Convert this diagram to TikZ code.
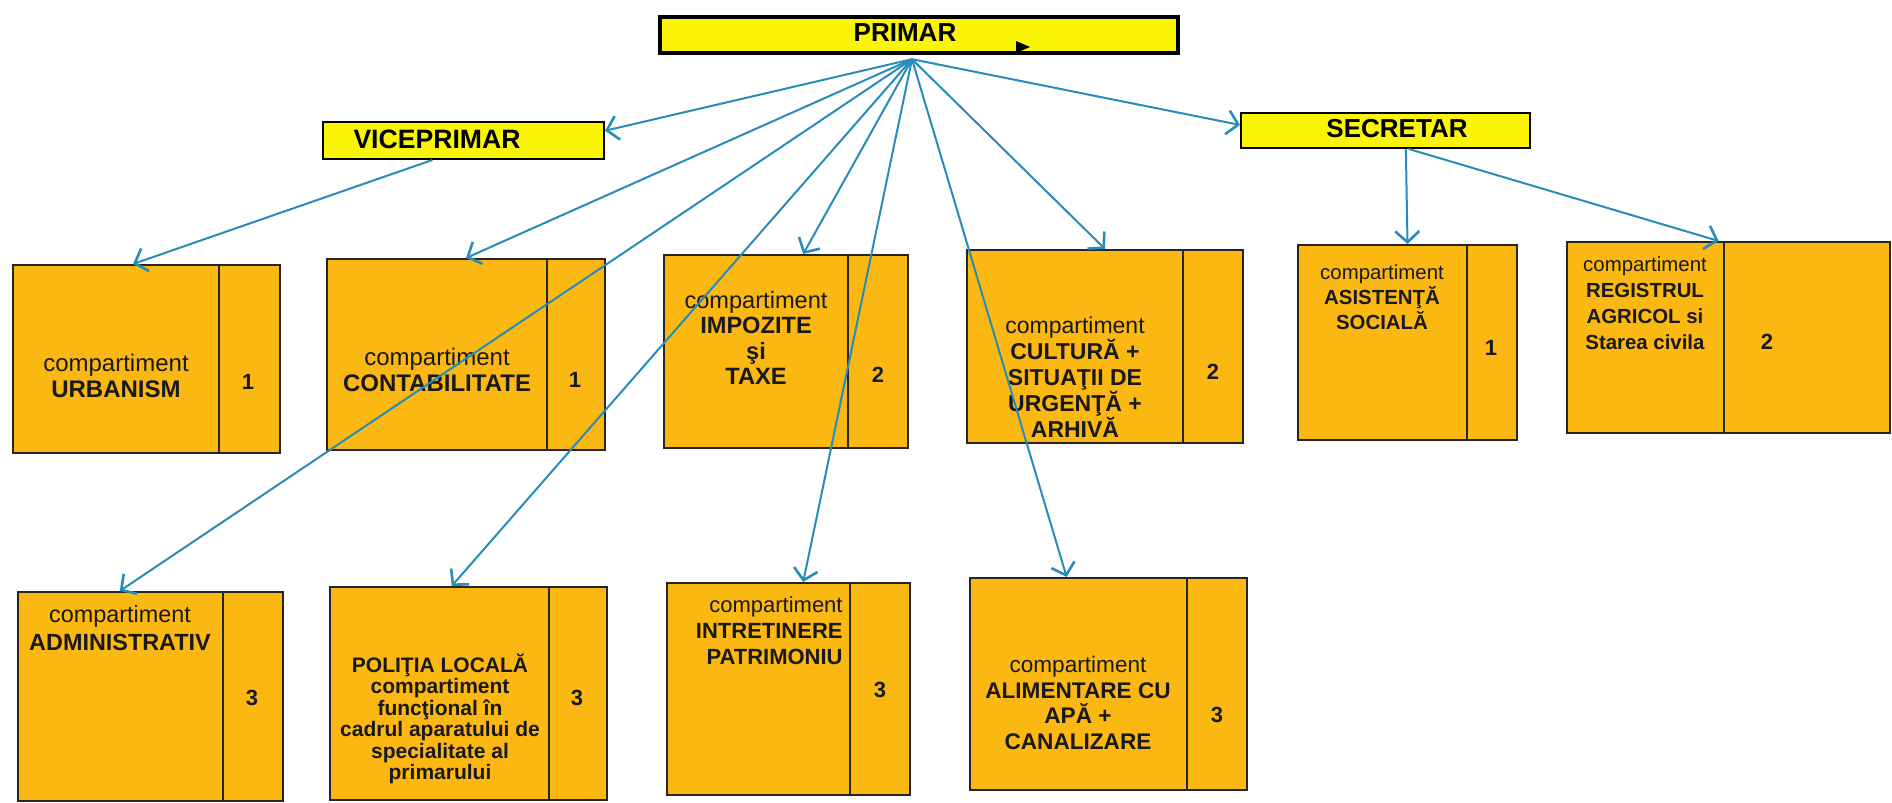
\documentclass[tikz,border=0pt]{standalone}
\usepackage{fontspec}
\setmainfont{Liberation Sans}
\usetikzlibrary{fit,calc,arrows.meta}
\definecolor{ybox}{RGB}{250,245,5}
\definecolor{obox}{RGB}{252,184,18}
\definecolor{lnk}{RGB}{40,140,185}
\tikzset{
 ybx/.style={draw=black, fill=ybox, line width=1pt, inner sep=0pt},
 obx/.style={draw=black!85, fill=obox, line width=1pt, inner sep=0pt},
 divl/.style={draw=black!85, line width=0.9pt},
 lbl/.style={align=center, inner sep=0pt, text=black!90},
 numl/.style={inner sep=0pt, font=\fontsize{11}{13}\selectfont\bfseries, text=black!90},
 arr/.style={draw=lnk, line width=1pt, -{Straight Barb[length=5.5pt,width=12pt,line width=1.3pt]}},
}
\newcommand\obox[6]{%
 \node[obx, fit={(#2,#3) (#5,#6)}] (#1) {};
 \draw[divl] (#4,#3) -- (#4,#6);
}
\begin{document}
\begin{tikzpicture}[x=0.5pt,y=-0.5pt]
\useasboundingbox (0,0) rectangle (1892,803);
% top boxes
\node[ybx, line width=2.2pt, fit={(660,17) (1178,53)}] (primar) {};
\node[font=\fontsize{13}{15}\selectfont\bfseries] (primart) at (905,33) {PRIMAR};
\fill (1016,41) -- (1030,47) -- (1016,53) -- cycle;
\node[ybx, fit={(323,122) (604,159)}] (vice) {};
\node[font=\fontsize{13.3}{15}\selectfont\bfseries] (vicet) at (437,139) {VICEPRIMAR};
\node[ybx, fit={(1241,113) (1530,148)}] (secr) {};
\node[font=\fontsize{13}{15}\selectfont\bfseries] (secrt) at (1397,129) {SECRETAR};
% first row
\obox{urb}{13}{265}{219}{280}{453}
\node[lbl, font=\fontsize{12}{13}\selectfont] (urbt) at (116,376) {compartiment\\\textbf{URBANISM}};
\node[numl] (urbn) at (248,382) {1};
\obox{con}{327}{259}{547}{605}{450}
\node[lbl, font=\fontsize{12}{13}\selectfont] (cont) at (437,370) {compartiment\\\textbf{CONTABILITATE}};
\node[numl] (connum) at (575,380) {1};
\obox{imp}{664}{255}{848}{908}{448}
\node[lbl, font=\fontsize{11.8}{12.8}\selectfont] (impt) at (756,338) {compartiment\\\textbf{IMPOZITE}\\\textbf{şi}\\\textbf{TAXE}};
\node[numl] (impn) at (878,375) {2};
\obox{cul}{967}{250}{1183}{1243}{443}
\node[lbl, font=\fontsize{11.5}{13}\selectfont] (cult) at (1075,377) {compartiment\\\textbf{CULTURĂ +}\\\textbf{SITUAŢII DE}\\\textbf{URGENŢĂ +}\\\textbf{ARHIVĂ}};
\node[numl] (culn) at (1213,372) {2};
\obox{asi}{1298}{245}{1467}{1517}{440}
\node[lbl, font=\fontsize{10.2}{12.5}\selectfont] (asit) at (1382,297) {compartiment\\\textbf{ASISTENŢĂ}\\\textbf{SOCIALĂ}};
\node[numl] (asin) at (1491,348) {1};
\obox{reg}{1567}{242}{1724}{1890}{433}
\node[lbl, font=\fontsize{10.2}{13}\selectfont] (regt) at (1645,303) {compartiment\\\textbf{REGISTRUL}\\\textbf{AGRICOL si}\\\textbf{Starea civila}};
\node[numl] (regn) at (1767,342) {2};
% second row
\obox{adm}{18}{592}{223}{283}{801}
\node[lbl, font=\fontsize{11.7}{14}\selectfont] (admt) at (120,628) {compartiment\\\textbf{ADMINISTRATIV}};
\node[numl] (admn) at (252,698) {3};
\obox{pol}{330}{587}{549}{607}{800}
\node[lbl, font=\fontsize{10.5}{10.7}\selectfont\bfseries] (polt) at (440,719) {POLIŢIA LOCALĂ\\compartiment\\funcţional în\\cadrul aparatului de\\specialitate al\\primarului};
\node[numl] (poln) at (577,698) {3};
\obox{int}{667}{583}{850}{910}{795}
\node[lbl, align=right, anchor=east, font=\fontsize{11}{13}\selectfont] (intt) at (843,631) {compartiment\\\textbf{INTRETINERE}\\\textbf{PATRIMONIU}};
\node[numl] (intn) at (880,690) {3};
\obox{ali}{970}{578}{1187}{1247}{790}
\node[lbl, font=\fontsize{11.3}{12.8}\selectfont] (alit) at (1078,703) {compartiment\\\textbf{ALIMENTARE CU}\\\textbf{APĂ +}\\\textbf{CANALIZARE}};
\node[numl] (alin) at (1217,715) {3};
% connectors
\coordinate (hub) at ($(primar.south)+(-7,4)$);
\draw[arr] (hub) -- ($(vice.north east)!0.25!(vice.south east)$);
\draw[arr] (hub) -- ($(secr.north west)!0.35!(secr.south west)$);
\draw[arr] ($(vice.south west)!0.39!(vice.south east)$) -- ($(urb.north west)!0.45!(urb.north east)$);
\draw[arr] (hub) -- (con.north);
\draw[arr] (hub) -- ($(imp.north west)!0.57!(imp.north east)$);
\draw[arr] (hub) -- (cul.north);
\draw[arr] (hub) -- ($(adm.north west)!0.385!(adm.north east)$);
\draw[arr] (hub) -- ($(pol.north west)!0.44!(pol.north east)$);
\draw[arr] (hub) -- ($(int.north west)!0.56!(int.north east)$);
\draw[arr] (hub) -- ($(ali.north west)!0.35!(ali.north east)$);
\draw[arr] ($(secr.south west)!0.57!(secr.south east)$) -- (asi.north);
\draw[arr] ($(secr.south west)!0.58!(secr.south east)$) -- ($(reg.north west)!0.47!(reg.north east)$);
\end{tikzpicture}
\end{document}
